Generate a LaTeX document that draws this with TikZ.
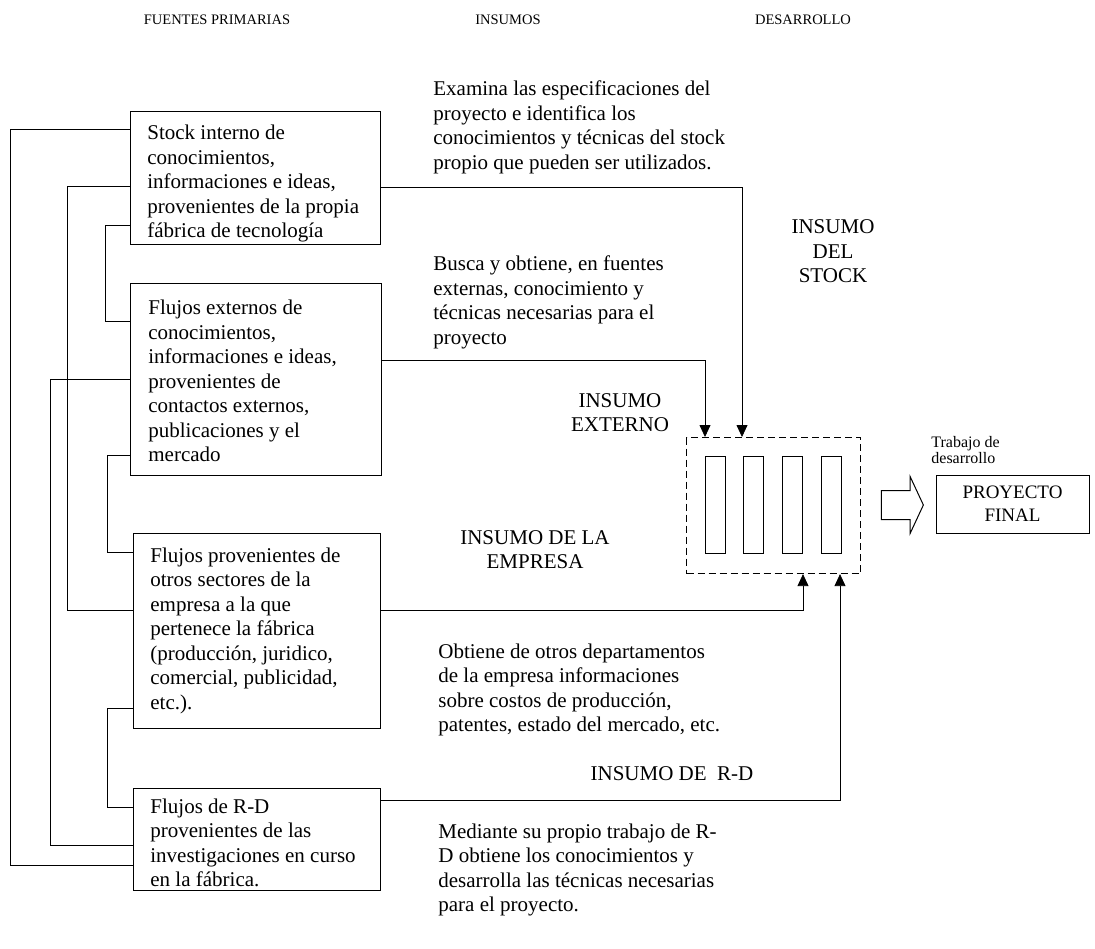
\documentclass[tikz,border=0pt]{standalone}
\usepackage{fontspec}
\setmainfont{Liberation Serif}
\usetikzlibrary{arrows.meta,shapes.arrows}
\newcommand\lblock[1]{\begin{tabular}[t]{@{}l@{}}#1\end{tabular}}
\newcommand\cblock[1]{\begin{tabular}[t]{@{}c@{}}#1\end{tabular}}
\begin{document}
\begin{tikzpicture}[x=1pt,y=-1pt,
  line width=0.8pt,
  srcbox/.style={draw, anchor=north west, inner sep=0pt},
  body/.style={inner sep=0pt, font=\fontsize{21}{24.5}\selectfont},
  head/.style={inner sep=0pt, font=\fontsize{14.5}{17}\selectfont, anchor=base},
  conn/.style={line width=0.8pt},
  arr/.style={conn, -{Triangle[width=11pt,length=12pt]}},
  bar/.style={draw, anchor=north west, minimum width=20pt, minimum height=97pt, inner sep=0pt, line width=1pt},
]
\path[use as bounding box] (0,0) rectangle (1095,949);

% headers
\node[head] (h1) at (217,25) {FUENTES PRIMARIAS};
\node[head] (h2) at (508,25) {INSUMOS};
\node[head] (h3) at (803,25) {DESARROLLO};

% source boxes
\node[srcbox, minimum width=250pt, minimum height=133pt] (b1) at (130,111) {};
\node[srcbox, minimum width=251pt, minimum height=192pt] (b2) at (130,283) {};
\node[srcbox, minimum width=247pt, minimum height=195pt] (b3) at (133,533) {};
\node[srcbox, minimum width=247pt, minimum height=102pt] (b4) at (133,788) {};

\node[body, anchor=base west] (t1) at (147,140) {\lblock{Stock interno de\\conocimientos,\\informaciones e ideas,\\provenientes de la propia\\fábrica de tecnología}};
\node[body, anchor=base west] (t2) at (148,315) {\lblock{Flujos externos de\\conocimientos,\\informaciones e ideas,\\provenientes de\\contactos externos,\\publicaciones y el\\mercado}};
\node[body, anchor=base west] (t3) at (150,562) {\lblock{Flujos provenientes de\\otros sectores de la\\empresa a la que\\pertenece la fábrica\\(producción, juridico,\\comercial, publicidad,\\etc.).}};
\node[body, anchor=base west] (t4) at (150,813) {\lblock{Flujos de R-D\\provenientes de las\\investigaciones en curso\\en la fábrica.}};

% left connectors
\draw[conn] ([yshift=-18pt]b1.north west) -- ++(-120,0) |- ([yshift=-77pt]b4.north west);
\draw[conn] ([yshift=-75pt]b1.north west) -- ++(-63,0) |- ([yshift=-77pt]b3.north west);
\draw[conn] ([yshift=-114pt]b1.north west) -- ++(-25,0) |- ([yshift=-38pt]b2.north west);
\draw[conn] ([yshift=-96pt]b2.north west) -- ++(-80,0) |- ([yshift=-57pt]b4.north west);
\draw[conn] ([yshift=-172pt]b2.north west) -- ++(-23,0) |- ([yshift=-19pt]b3.north west);
\draw[conn] ([yshift=-175pt]b3.north west) -- ++(-26,0) |- ([yshift=-19pt]b4.north west);

% development block
\node[draw, dash pattern=on 7pt off 4pt, line width=1.1pt, anchor=north west, inner sep=0pt,
      minimum width=174pt, minimum height=136pt] (dev) at (686,437) {};
\node[bar] (bar1) at (705,456) {};
\node[bar] (bar2) at (743,456) {};
\node[bar] (bar3) at (782,456) {};
\node[bar] (bar4) at (821,456) {};

% right connectors
\draw[arr] ([yshift=-76pt]b1.north east) -| ([xshift=56pt]dev.north west);
\draw[arr] ([yshift=-77pt]b2.north east) -| ([xshift=19pt]dev.north west);
\draw[arr] ([yshift=-77pt]b3.north east) -| ([xshift=117pt]dev.south west);
\draw[arr] ([yshift=-12pt]b4.north east) -| ([xshift=154pt]dev.south west);

% output
\node[draw, single arrow, single arrow head extend=14pt, single arrow tip angle=130,
      inner xsep=0pt, inner ysep=14pt, minimum height=42pt, line width=1pt] (flow) at (899,505) {};
\node[draw, minimum width=153pt, minimum height=58pt, inner sep=0pt, align=center,
      font=\fontsize{19}{23}\selectfont] (pf) at (1012.5,504) {PROYECTO\\FINAL};
\node[inner sep=0pt, anchor=base west, font=\fontsize{16}{16.5}\selectfont] (tr) at (931,447) {\lblock{Trabajo de\\desarrollo}};

% insumo texts
\node[body, anchor=base west] (ex) at (433,96) {\lblock{Examina las especificaciones del\\proyecto e identifica los\\conocimientos y técnicas del stock\\propio que pueden ser utilizados.}};
\node[body, anchor=base] (ist) at (833,234) {\cblock{INSUMO\\DEL\\STOCK}};
\node[body, anchor=base west] (bu) at (433,271) {\lblock{Busca y obtiene, en fuentes\\externas, conocimiento y\\técnicas necesarias para el\\proyecto}};
\node[body, anchor=base] (iex) at (620,407) {\cblock{INSUMO\\EXTERNO}};
\node[body, anchor=base] (iem) at (535,544) {\cblock{INSUMO DE LA\\EMPRESA}};
\node[body, anchor=base west] (ob) at (438,658) {\lblock{Obtiene de otros departamentos\\de la empresa informaciones\\sobre costos de producción,\\patentes, estado del mercado, etc.}};
\node[body, anchor=base] (ird) at (672,780) {INSUMO DE\ \ R-D};
\node[body, anchor=base west] (me) at (438,838) {\lblock{Mediante su propio trabajo de R-\\D obtiene los conocimientos y\\desarrolla las técnicas necesarias\\para el proyecto.}};
\end{tikzpicture}
\end{document}
